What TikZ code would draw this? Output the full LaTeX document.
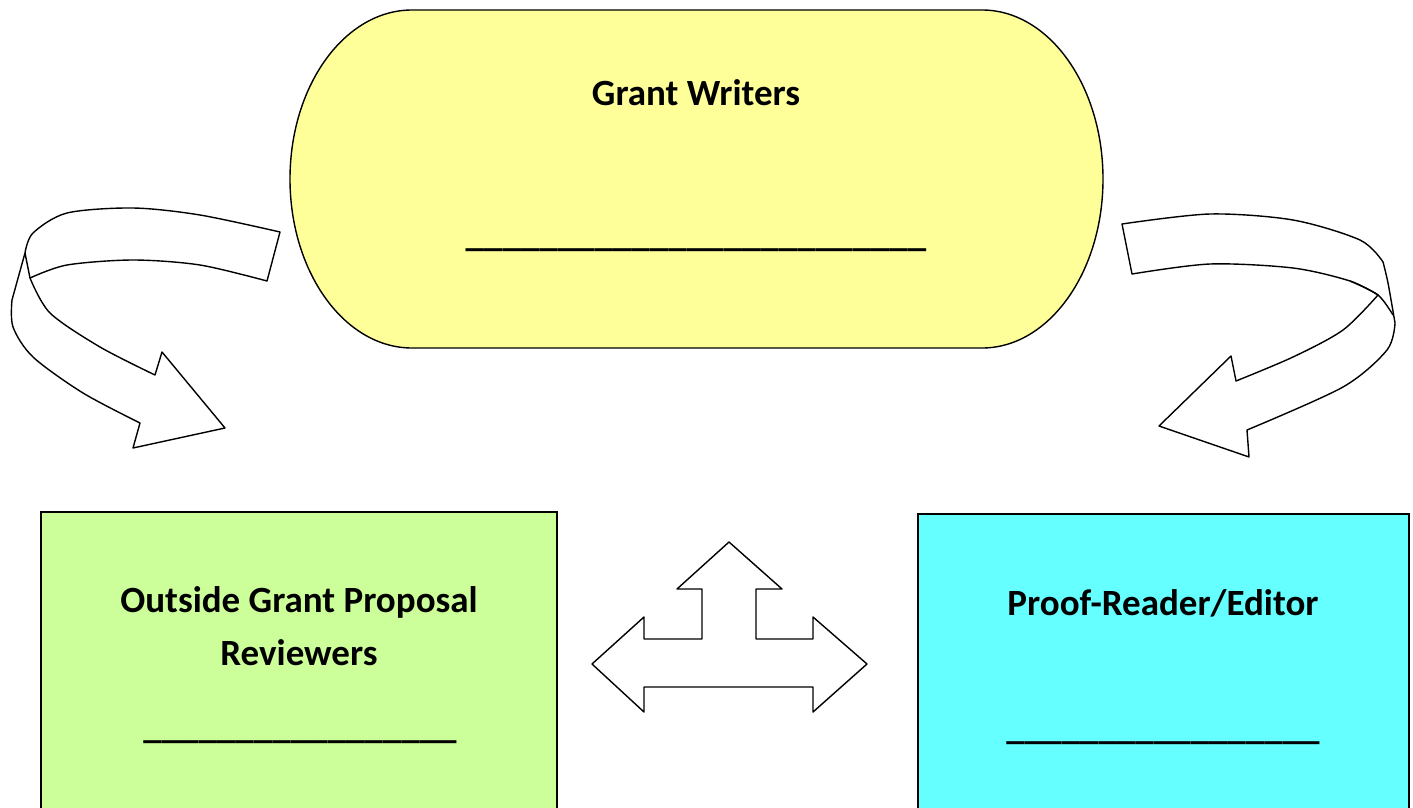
\documentclass[tikz,border=0pt]{standalone}
\usepackage{fontspec}
\setmainfont{Carlito}
\tikzset{>=stealth}

\definecolor{writeryellow}{HTML}{FFFF99}
\definecolor{reviewgreen}{HTML}{CCFF99}
\definecolor{editorcyan}{HTML}{66FFFF}

\tikzset{
  boxtext/.style={font=\fontsize{37}{44}\selectfont\bfseries, inner sep=0pt, anchor=base},
  ribbon/.style={draw=black, fill=white, line width=1.4pt, line join=round},
  panel/.style={draw=black, line width=2pt},
}

\begin{document}
\begin{tikzpicture}[x=1pt,y=-1pt]
  \useasboundingbox (0,0) rectangle (1413,808);
  \clip (0,0) rectangle (1413,808);

  % grant writers
  \draw[fill=writeryellow, line width=1.4pt]
    (412,10) -- (982,10)
    arc[start angle=-90, end angle=90, x radius=121, y radius=169]
    -- (412,348)
    arc[start angle=90, end angle=270, x radius=122, y radius=169] -- cycle;
  \node[boxtext] (writers) at (696,105) {Grant Writers};
  \node[boxtext] (writersblank) at (696,246) {\_\_\_\_\_\_\_\_\_\_\_\_\_\_\_\_\_\_\_\_\_\_\_\_\_};

  % reviewers and editor
  \draw[panel, fill=reviewgreen] (41,512) rectangle (557,840);
  \draw[panel, fill=editorcyan] (918,514) rectangle (1409,840);

  \node[boxtext] (reviewers) at (299,612) {Outside Grant Proposal};
  \node[boxtext] (reviewers2) at (299,665) {Reviewers};
  \node[boxtext] (reviewersblank) at (300,738) {\_\_\_\_\_\_\_\_\_\_\_\_\_\_\_\_\_};

  \node[boxtext] (editor) at (1163,615) {Proof-Reader/Editor};
  \node[boxtext] (editorblank) at (1163,739) {\_\_\_\_\_\_\_\_\_\_\_\_\_\_\_\_\_};

  % left ribbon arrow
  \coordinate (lA) at (280,232);
  \coordinate (lB) at (267,281);
  \coordinate (lF) at (25,253);
  \coordinate (lG) at (30,278);
  \coordinate (lH) at (155,375);
  \coordinate (lI) at (162,352);
  \coordinate (lT) at (225,428);
  \coordinate (lJ) at (133,448);
  \coordinate (lK) at (140,423);
  \coordinate (lL) at (12,300);
  \draw[ribbon] (lA) -- (lB)
    -- plot[smooth] coordinates {(lB) (200,265) (133,260) (67,265) (lG)}
    -- plot[smooth] coordinates {(lG) (50,313) (100,347) (lH)}
    -- (lI) -- (lT) -- (lJ) -- (lK)
    -- plot[smooth] coordinates {(lK) (83,393) (33,357) (13,327) (lL)}
    -- (lF)
    -- plot[smooth] coordinates {(lF) (33,233) (67,213) (133,208) (200,215) (lA)}
    -- cycle;
  \draw[ribbon, fill=none] (lF) -- (lG);

  % right ribbon arrow
  \coordinate (rA) at (1122,224);
  \coordinate (rB) at (1132,274);
  \coordinate (rO1) at (1383,262);
  \coordinate (rO2) at (1395,323);
  \coordinate (rK) at (1247,430);
  \coordinate (rJ) at (1249,457);
  \coordinate (rT) at (1159,426);
  \coordinate (rI) at (1231,356);
  \coordinate (rH) at (1236,381);
  \coordinate (rM) at (1378,295);
  \coordinate (rE) at (1393,315);
  \draw[ribbon] (rA) -- (rB)
    -- plot[smooth] coordinates {(rB) (1210,264) (1293,268) (1350,281) (rM)}
    -- plot[smooth] coordinates {(rM) (1343,330) (1293,357) (rH)}
    -- (rI) -- (rT) -- (rJ) -- (rK)
    -- plot[smooth] coordinates {(rK) (1343,387) (1387,350) (rO2)}
    -- plot[smooth] coordinates {(rO2) (1388,283) (rO1)}
    -- plot[smooth] coordinates {(rO1) (1360,240) (1293,220) (1210,214) (rA)}
    -- cycle;
  \draw[ribbon, fill=none] plot[smooth] coordinates {(1350,281) (rM) (rE)};

  % three way arrow
  \draw[ribbon] (729,542) -- (782,589) -- (756,589) -- (756,639)
    -- (813,639) -- (813,617) -- (867,664) -- (813,712) -- (813,687)
    -- (644,687) -- (644,712) -- (592,664) -- (644,617) -- (644,639)
    -- (702,639) -- (702,589) -- (677,589) -- cycle;
\end{tikzpicture}
\end{document}
